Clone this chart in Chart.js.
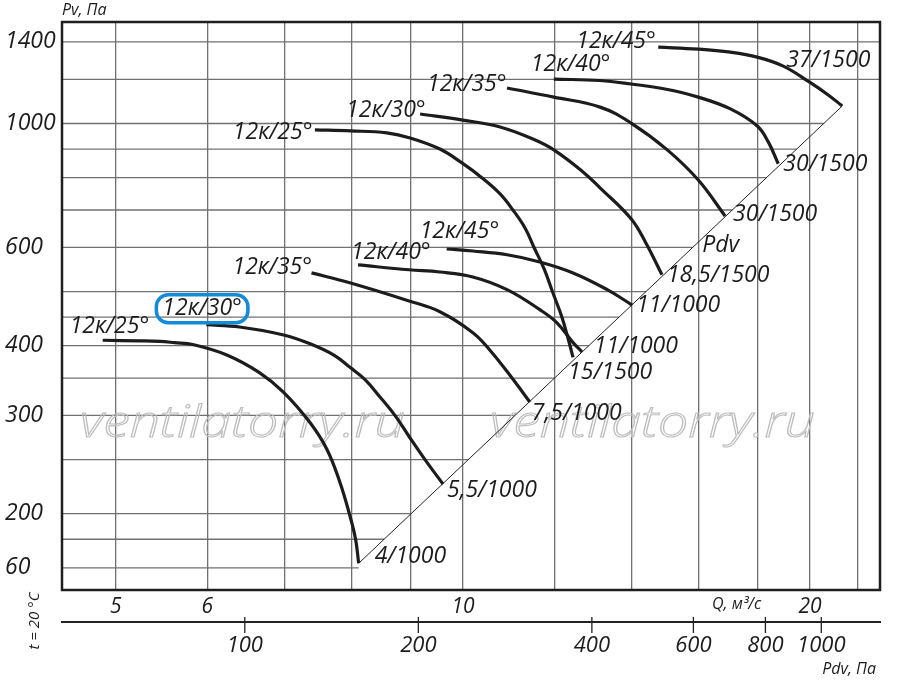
<!DOCTYPE html>
<html>
<head>
<meta charset="utf-8">
<script src="https://cdn.jsdelivr.net/npm/chart.js@4.4.1/dist/chart.umd.min.js"></script>
<style>
  html, body { margin: 0; padding: 0; background: #fff; }
  #wrap { width: 900px; height: 681px; position: relative; }
</style>
</head>
<body>
<div id="wrap"><canvas id="fanChart"></canvas></div>
<script>
// fan curves, Q - flow, Pv - pressure (Pa)
const fanNames   = ['12к/25°', '12к/30°', '12к/35°', '12к/40°', '12к/45°',
                    '12к/25°', '12к/30°', '12к/35°', '12к/40°', '12к/45°']
const motorNames = ['4/1000', '5,5/1000', '7,5/1000', '11/1000', '11/1000',
                    '15/1500', '18,5/1500', '30/1500', '30/1500', '37/1500']

const q1  = [4.87, 5.24, 5.46, 5.62, 5.83, 6.24, 6.66, 6.99, 7.37, 7.62, 7.82, 7.97, 8.07, 8.12]
const pv1 = [409, 408, 407, 405, 402, 385, 358, 330, 291, 261, 228, 200, 180, 163]
const q2  = [5.99, 6.40, 6.99, 7.37, 7.74, 7.99, 8.22, 8.47, 8.73, 8.98, 9.27, 9.61]
const pv2 = [436, 432, 418, 403, 384, 365, 348, 324, 300, 275, 250, 226]
const q3  = [7.39, 7.99, 8.98, 9.55, 10.20, 10.55, 11.03, 11.43]
const pv3 = [540, 518, 481, 460, 422, 393, 350, 317]
const q4  = [8.11, 8.98, 9.55, 10.20, 10.92, 11.66, 12.06, 12.46, 12.68]
const pv4 = [558, 547, 542, 531, 504, 464, 440, 405, 390]
const q5  = [9.68, 10.20, 10.92, 11.66, 12.46, 13.34, 14.02]
const pv5 = [596, 591, 582, 565, 540, 504, 473]
const q6  = [7.44, 7.99, 8.59, 9.00, 9.55, 9.98, 10.39, 10.77, 11.05, 11.32, 11.52, 11.76, 11.97, 12.19, 12.36, 12.46]
const pv6 = [974, 970, 962, 942, 900, 850, 799, 748, 700, 650, 601, 549, 497, 449, 406, 381]
const q7  = [9.18, 10.0, 10.77, 11.50, 11.99, 12.71, 13.15, 13.99, 14.41, 14.88]
const pv7 = [1040, 1014, 986, 938, 897, 819, 767, 675, 611, 536]
const q8  = [10.92, 11.99, 13.15, 13.99, 15.04, 16.0, 16.88]
const pv8 = [1158, 1115, 1070, 1002, 897, 792, 683]
const q9  = [11.99, 13.15, 13.99, 14.97, 16.0, 17.06, 18.0, 18.40, 18.77]
const pv9 = [1201, 1194, 1177, 1153, 1115, 1062, 990, 927, 847]
const q10  = [14.77, 16.0, 17.06, 18.0, 18.96, 19.97, 20.74, 21.33]
const pv10 = [1370, 1359, 1342, 1315, 1267, 1187, 1125, 1075]

// dynamic pressure line Pdv
const pdvQ  = [8.12, 21.33]
const pdvPv = [163, 1075]

// axes
const qGrid   = [5, 6, 7, 8, 9, 10, 12, 14, 16, 18, 20, 22]
const qLabels = [5, 6, 10, 20]
const pvGrid  = [160, 180, 200, 250, 300, 350, 400, 450, 500, 600, 700, 800, 900, 1000, 1200, 1400]
const pvTickValues = [160, 200, 300, 400, 600, 1000, 1400]
const pvTickText   = ['60', '200', '300', '400', '600', '1000', '1400']
const pdvTicks = [100, 200, 400, 600, 800, 1000]
const pdvK = 2.39   // Pdv = k * Q^2
const qMin = 4.49, qMax = 23.0
const pvMin = 146, pvMax = 1520

const curves = [[q1, pv1], [q2, pv2], [q3, pv3], [q4, pv4], [q5, pv5],
                [q6, pv6], [q7, pv7], [q8, pv8], [q9, pv9], [q10, pv10]]

// label placement (pixel offsets from curve start / end)
const nameOffset  = [[-33, -14], [-44, -16], [-79, -5], [-7, -12], [-27, -18],
                     [-82, 3], [-74, -4], [-80, -3], [-23, -15], [-82, -6]]
const motorOffset = [[16, -7], [4, 6], [2, 11], [12, -5], [4, 0],
                     [-5, 15], [5, 1], [8, -1], [5, 1], [-56, -46]]

const FONT = '"Open Sans", "DejaVu Sans", sans-serif'
const ink = '#1c1c1c'
const gridColor = '#707070'

let datasets = curves.map(function (c) {
    return {
        data: c[0].map(function (v, i) { return {x: v, y: c[1][i]} }),
        showLine: true,
        borderColor: ink,
        borderWidth: 3.2,
        pointRadius: 0,
        tension: 0.4,
        fill: false
    }
})
datasets.push({
    data: pdvQ.map(function (v, i) { return {x: v, y: pdvPv[i]} }),
    showLine: true,
    borderColor: '#222',
    borderWidth: 1,
    pointRadius: 0,
    fill: false
})

const decor = {
    id: 'decor',
    beforeDatasetsDraw(chart) {
        const ctx = chart.ctx, a = chart.chartArea, x = chart.scales.x, y = chart.scales.y
        const loX = x.getPixelForValue(pdvQ[0]), loY = y.getPixelForValue(pdvPv[0])
        const hiX = x.getPixelForValue(pdvQ[1]), hiY = y.getPixelForValue(pdvPv[1])
        ctx.save()
        // horizontal grid stops at the Pdv line
        ctx.strokeStyle = gridColor
        ctx.lineWidth = 1.3
        pvGrid.forEach(function (v) {
            const py = y.getPixelForValue(v)
            let ex = a.right
            if (py >= loY) ex = loX
            else if (py > hiY) ex = loX + (hiX - loX) * (loY - py) / (loY - hiY)
            ctx.beginPath()
            ctx.moveTo(a.left, py)
            ctx.lineTo(ex, py)
            ctx.stroke()
        })
        // watermark
        ctx.font = 'italic 300 44px ' + FONT
        ctx.strokeStyle = '#bdbdbd'
        ctx.lineWidth = 1.1
        ctx.textBaseline = 'alphabetic'
        ctx.textAlign = 'left'
        const wm = 'ventilatorry.ru'
        const sx = 325 / ctx.measureText(wm).width;
        [a.left + 18, a.left + 428].forEach(function (lx) {
            ctx.save()
            ctx.translate(lx, a.top + 415)
            ctx.scale(sx, 1)
            ctx.strokeText(wm, 0, 0)
            ctx.restore()
        })
        ctx.restore()
    },
    afterDatasetsDraw(chart) {
        const ctx = chart.ctx, a = chart.chartArea, x = chart.scales.x, y = chart.scales.y
        ctx.save()
        ctx.fillStyle = ink
        ctx.font = 'italic 23px ' + FONT
        ctx.textAlign = 'left'
        ctx.textBaseline = 'middle'
        curves.forEach(function (c, i) {
            const n = c[0].length
            const sx = x.getPixelForValue(c[0][0]), sy = y.getPixelForValue(c[1][0])
            const ex = x.getPixelForValue(c[0][n - 1]), ey = y.getPixelForValue(c[1][n - 1])
            const lx = sx + nameOffset[i][0], ly = sy + nameOffset[i][1]
            ctx.fillText(fanNames[i], lx, ly)
            if (i === 1) {
                const w = ctx.measureText(fanNames[i]).width
                ctx.save()
                ctx.strokeStyle = '#138bd8'
                ctx.lineWidth = 3.5
                ctx.beginPath()
                ctx.roundRect(lx - 6, ly - 14, w + 12, 28, 12)
                ctx.stroke()
                ctx.restore()
            }
            ctx.fillText(motorNames[i], ex + motorOffset[i][0], ey + motorOffset[i][1])
        })
        // Pdv line caption
        ctx.fillText('Pdv', x.getPixelForValue(pdvQ[1]) - 140, y.getPixelForValue(pdvPv[1]) + 139)

        // frame
        ctx.strokeStyle = '#1f1f1f'
        ctx.lineWidth = 2.5
        ctx.strokeRect(a.left, a.top, a.right - a.left, a.bottom - a.top)
        ctx.restore()
    },
    afterDraw(chart) {
        const ctx = chart.ctx, a = chart.chartArea, x2 = chart.scales.x2
        ctx.save()
        // Pdv scale tick marks crossing the line
        ctx.strokeStyle = '#222'
        ctx.lineWidth = 1.3
        pdvTicks.forEach(function (v) {
            const px = x2.getPixelForValue(v)
            ctx.beginPath()
            ctx.moveTo(px, x2.top - 5)
            ctx.lineTo(px, x2.top + 11)
            ctx.stroke()
        })
        ctx.fillStyle = ink
        ctx.textBaseline = 'middle'
        ctx.font = 'italic 16px ' + FONT
        ctx.textAlign = 'left'
        ctx.fillText('Pv, Па', a.left, 10)
        ctx.fillText('Q, м³/с', a.left + 650, a.bottom + 14)
        ctx.textAlign = 'right'
        ctx.fillText('Pdv, Па', a.right - 4, x2.bottom - 12)
        ctx.save()
        ctx.translate(35, a.bottom + 31)
        ctx.rotate(-Math.PI / 2)
        ctx.textAlign = 'center'
        ctx.font = 'italic 15px ' + FONT
        ctx.fillText('t = 20 °C', 0, 0)
        ctx.restore()
        ctx.restore()
    }
}

const tickFont = function (size) { return {family: FONT, style: 'italic', size: size} }

new Chart(document.getElementById('fanChart').getContext('2d'), {
    type: 'scatter',
    data: {datasets: datasets},
    options: {
        responsive: true,
        maintainAspectRatio: false,
        animation: false,
        layout: {padding: {top: 22, right: 20, bottom: 0, left: 5}},
        plugins: {legend: {display: false}, tooltip: {enabled: false}},
        scales: {
            x: {
                type: 'logarithmic',
                position: 'bottom',
                weight: 0,
                min: qMin,
                max: qMax,
                afterBuildTicks: function (s) { s.ticks = qGrid.map(function (v) { return {value: v} }) },
                afterFit: function (s) { s.height = 32 },
                border: {display: false},
                grid: {color: gridColor, lineWidth: 1.3, drawTicks: false},
                ticks: {
                    autoSkip: false, maxRotation: 0, minRotation: 0, padding: 4,
                    color: ink, font: tickFont(21),
                    callback: function (v) { return qLabels.indexOf(v) >= 0 ? String(v) : '' }
                }
            },
            x2: {
                type: 'logarithmic',
                position: 'bottom',
                weight: 1,
                min: pdvK * qMin * qMin,
                max: pdvK * qMax * qMax,
                afterBuildTicks: function (s) { s.ticks = pdvTicks.map(function (v) { return {value: v} }) },
                afterFit: function (s) { s.height = 59 },
                border: {display: true, color: '#222', width: 2},
                grid: {display: false, drawTicks: false},
                ticks: {
                    autoSkip: false, maxRotation: 0, minRotation: 0, padding: 11,
                    color: ink, font: tickFont(22),
                    callback: function (v) { return String(v) }
                }
            },
            y: {
                type: 'logarithmic',
                min: pvMin,
                max: pvMax,
                afterBuildTicks: function (s) { s.ticks = pvGrid.map(function (v) { return {value: v} }) },
                afterFit: function (s) { s.width = 57 },
                border: {display: false},
                grid: {display: false},
                ticks: {
                    autoSkip: false, crossAlign: 'far', padding: 0,
                    color: ink, font: tickFont(23),
                    callback: function (v) {
                        const i = pvTickValues.indexOf(v)
                        return i >= 0 ? pvTickText[i] : ''
                    }
                }
            }
        }
    },
    plugins: [decor]
})
</script>
</body>
</html>
